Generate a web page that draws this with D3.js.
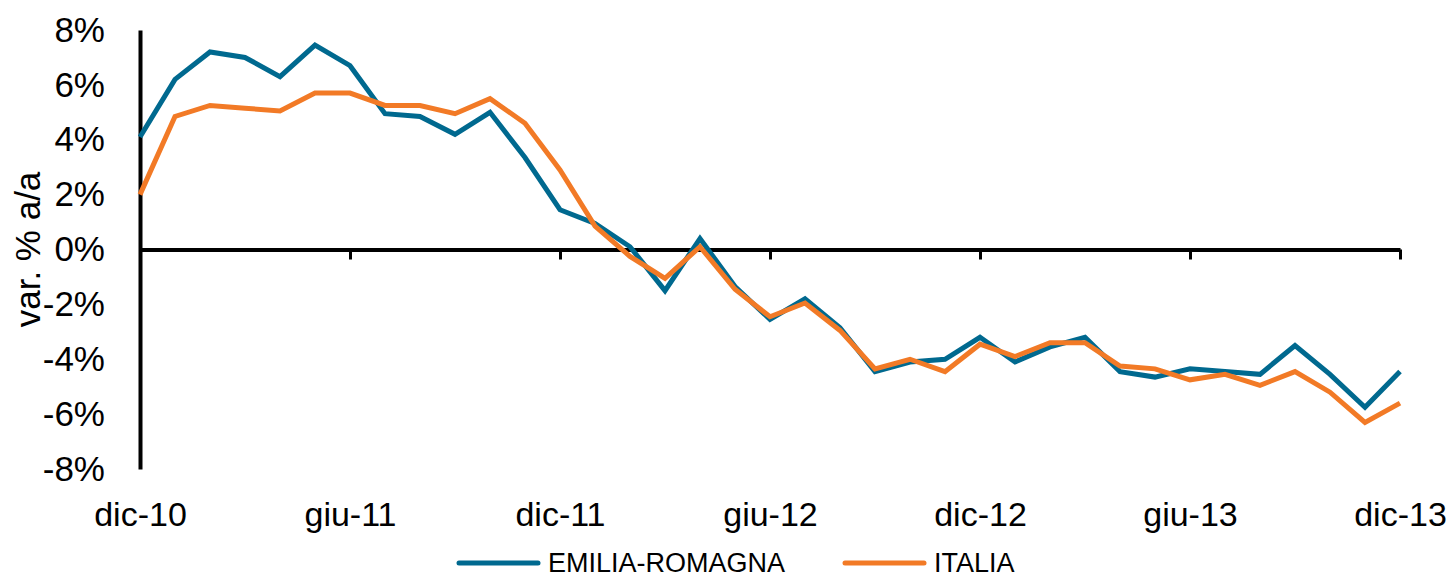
<!DOCTYPE html>
<html>
<head>
<meta charset="utf-8">
<script src="https://cdn.jsdelivr.net/npm/d3@7"></script>
<style>
  body { margin: 0; background: #fff; }
  svg { display: block; font-family: "Liberation Sans", Arial, sans-serif; }
</style>
</head>
<body>
<div id="chart"></div>
<script>
// data, monthly from dic-10 to dic-13
var months = ["dic-10","gen-11","feb-11","mar-11","apr-11","mag-11","giu-11","lug-11","ago-11","set-11","ott-11","nov-11",
              "dic-11","gen-12","feb-12","mar-12","apr-12","mag-12","giu-12","lug-12","ago-12","set-12","ott-12","nov-12",
              "dic-12","gen-13","feb-13","mar-13","apr-13","mag-13","giu-13","lug-13","ago-13","set-13","ott-13","nov-13",
              "dic-13"];
var emilia = [4.1, 6.2, 7.2, 7.0, 6.3, 7.45, 6.7, 4.95, 4.85, 4.2, 5.0, 3.35, 1.45, 0.95, 0.1, -1.5, 0.4, -1.35,
              -2.55, -1.8, -2.85, -4.45, -4.1, -4.0, -3.2, -4.1, -3.55, -3.2, -4.45, -4.65, -4.35, -4.45, -4.55,
              -3.5, -4.55, -5.75, -4.45];
var italia = [2.0, 4.85, 5.25, 5.15, 5.05, 5.7, 5.7, 5.25, 5.25, 4.95, 5.5, 4.6, 2.9, 0.85, -0.25, -1.05, 0.1, -1.45,
              -2.45, -1.95, -2.95, -4.35, -4.0, -4.45, -3.45, -3.9, -3.4, -3.4, -4.25, -4.35, -4.75, -4.55, -4.95,
              -4.45, -5.2, -6.3, -5.6];
var xTicks = ["dic-10","giu-11","dic-11","giu-12","dic-12","giu-13","dic-13"];
var yTicks = [8, 6, 4, 2, 0, -2, -4, -6, -8];
var seriesNames = ["EMILIA-ROMAGNA", "ITALIA"];

var width = 1453, height = 579;
var colors = ["#00698f", "#f27a26"];

var svg = d3.select("#chart").append("svg")
    .attr("width", width)
    .attr("height", height);

//scales
var x = d3.scalePoint().domain(months).range([140, 1400]);
var y = d3.scaleLinear().domain([-8, 8]).range([469, 30]);

//y axis
var yAxis = svg.append("g")
    .attr("transform", "translate(140,0)")
    .call(d3.axisLeft(y).tickValues(yTicks).tickSize(0).tickPadding(35)
          .tickFormat(function(d){ return d + "%"; }));
yAxis.select(".domain").attr("stroke", "#000").attr("stroke-width", 4);
yAxis.selectAll("text").attr("font-size", 35).attr("fill", "#000")
    .attr("font-family", "Liberation Sans, Arial, sans-serif");

//x axis on the zero line, ticks only
var xAxis = svg.append("g")
    .attr("transform", "translate(0," + y(0) + ")")
    .call(d3.axisBottom(x).tickValues(xTicks).tickSizeInner(10).tickSizeOuter(0).tickFormat(""));
xAxis.select(".domain").attr("stroke", "#000").attr("stroke-width", 4);
xAxis.selectAll(".tick line").attr("stroke", "#000").attr("stroke-width", 3);

//x labels along the bottom
var xLabels = svg.append("g")
    .attr("transform", "translate(0,502)")
    .call(d3.axisBottom(x).tickValues(xTicks).tickSize(0).tickPadding(0));
xLabels.select(".domain").remove();
xLabels.selectAll("text").attr("font-size", 34).attr("fill", "#000")
    .attr("dy", "0.72em")
    .attr("font-family", "Liberation Sans, Arial, sans-serif");

//y title
svg.append("text")
    .attr("transform", "translate(40," + y(0) + ") rotate(-90)")
    .attr("text-anchor", "middle")
    .attr("font-size", 35)
    .text("var. % a/a");

//lines
var line = d3.line()
    .x(function(d, i){ return x(months[i]); })
    .y(function(d){ return y(d); });

[emilia, italia].forEach(function(s, k){
  svg.append("path")
     .datum(s)
     .attr("d", line)
     .attr("fill", "none")
     .attr("stroke", colors[k])
     .attr("stroke-width", 5)
     .attr("stroke-linejoin", "miter");
});

//legend
var legendX = [457, 843];
var legend = svg.append("g").selectAll("g")
    .data(seriesNames)
    .enter()
    .append("g")
    .attr("transform", function(d, i){ return "translate(" + legendX[i] + ",563)"; });
legend.append("line")
    .attr("x1", 2).attr("x2", 81)
    .attr("stroke", function(d, i){ return colors[i]; })
    .attr("stroke-width", 5)
    .attr("stroke-linecap", "round");
legend.append("text")
    .attr("x", 91)
    .attr("y", 9)
    .attr("font-size", 27)
    .text(function(d){ return d; });
</script>
</body>
</html>
